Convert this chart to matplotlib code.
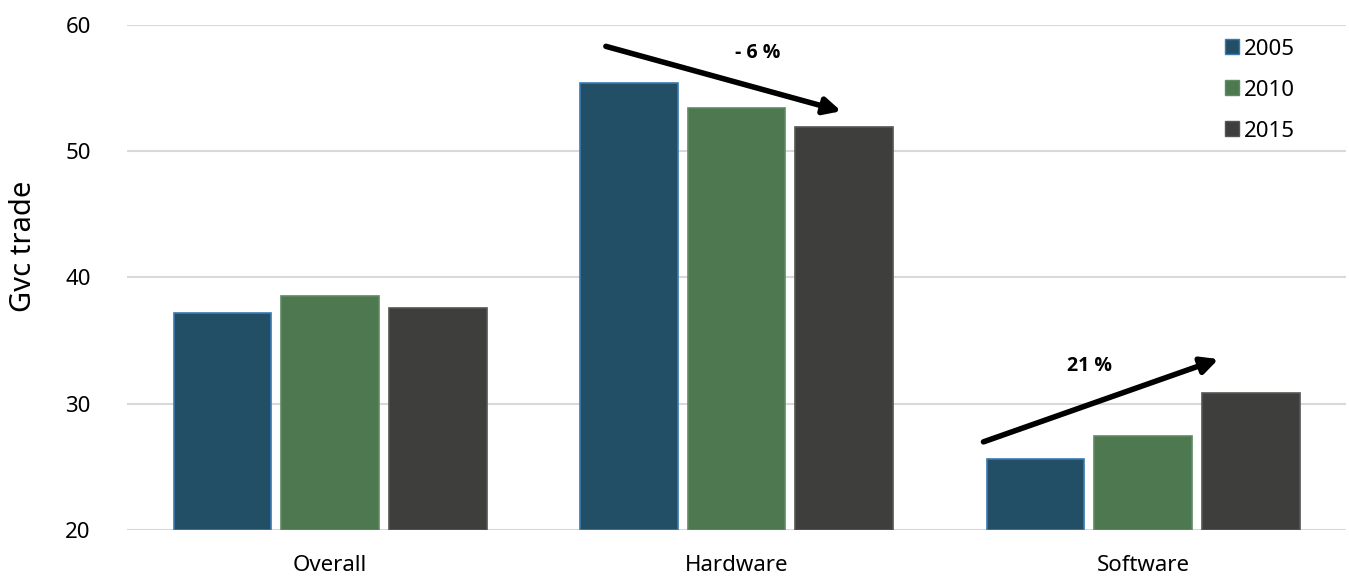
import numpy as np
import matplotlib.pyplot as plt
from matplotlib.patches import Patch

plt.rcParams['font.family'] = ['Noto Sans', 'DejaVu Sans']

categories = ['Overall', 'Hardware', 'Software']
years = ['2005', '2010', '2015']
gvc_2005 = [37.2, 55.4, 25.6]
gvc_2010 = [38.5, 53.4, 27.45]
gvc_2015 = [37.55, 51.9, 30.85]

face_colors = ['#234f66', '#4e7850', '#3e3e3c']
edge_colors = ['#3a78b5', '#5f8a62', '#555555']

fig = plt.figure(figsize=(13.49, 5.76), dpi=100)
ax = fig.add_axes([0.094, 0.080, 0.904, 0.877])

x = np.arange(len(categories))
width = 0.24
step = 0.265
series = [gvc_2005, gvc_2010, gvc_2015]
for i, vals in enumerate(series):
    ax.bar(x + (i - 1) * step, np.array(vals) - 20, width, bottom=20,
           color=face_colors[i], edgecolor=edge_colors[i], linewidth=1.2,
           zorder=3)

ax.set_xlim(-0.5, 2.5)
ax.set_ylim(20, 60)
ax.set_yticks([20, 30, 40, 50, 60])
ax.set_xticks(x)
ax.set_xticklabels(categories)
ax.tick_params(length=0, labelsize=16)
ax.tick_params(axis='x', pad=18)
ax.tick_params(axis='y', pad=26)
ax.grid(axis='y', color='#d9d9d9', linewidth=1.5, zorder=0)
for s in ax.spines.values():
    s.set_visible(False)
ax.set_ylabel('Gvc trade', fontsize=21)
ax.yaxis.set_label_coords(-0.073, 0.562)

# trend arrows
bold = ['Open Sans', 'DejaVu Sans']
ax.annotate('', xy=(1.264, 53.1), xytext=(0.672, 58.35),
            arrowprops=dict(arrowstyle='-|>,head_length=1.0,head_width=0.5',
                            color='black', lw=4), zorder=5)
ax.text(1.052, 57.8, '- 6 %', fontsize=14, fontweight='bold', family=bold,
        ha='center', va='center')
ax.annotate('', xy=(2.192, 33.6), xytext=(1.601, 26.9),
            arrowprops=dict(arrowstyle='-|>,head_length=1.0,head_width=0.5',
                            color='black', lw=4), zorder=5)
ax.text(1.869, 33.0, '21 %', fontsize=14, fontweight='bold', family=bold,
        ha='center', va='center')

handles = [Patch(facecolor=face_colors[i], edgecolor=edge_colors[i])
           for i in range(3)]
ax.legend(handles, years, loc='upper right', bbox_to_anchor=(0.974, 1.012),
          frameon=False, fontsize=16, handlelength=0.65, handleheight=0.65,
          handletextpad=0.2, labelspacing=0.9)

fig.savefig('out.png', dpi=100)
